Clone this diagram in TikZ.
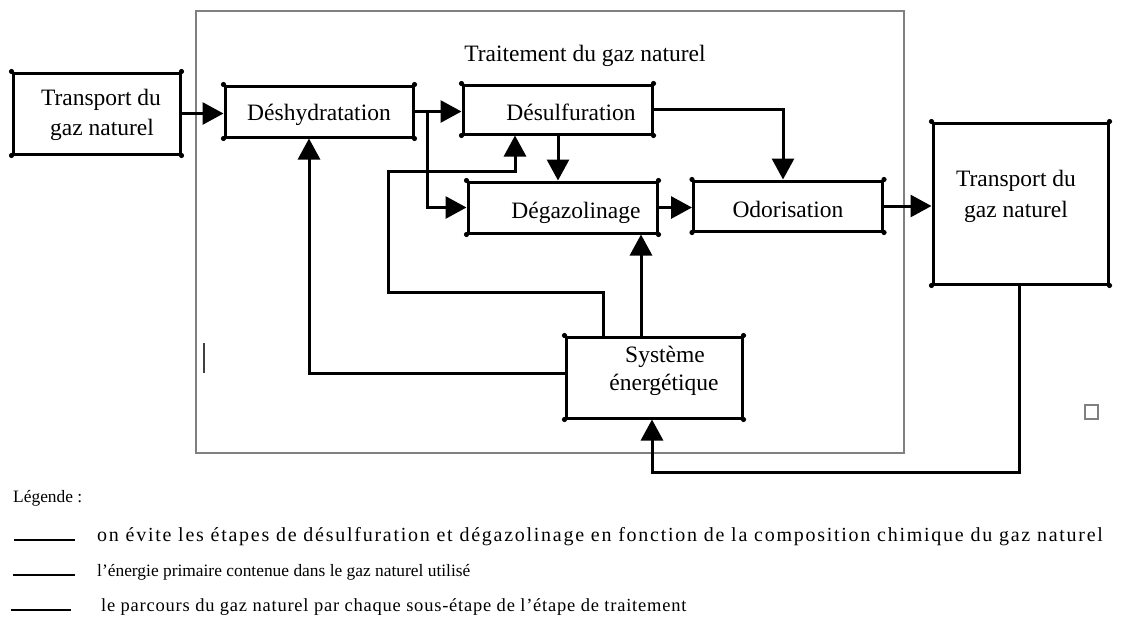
\documentclass[tikz,border=0pt]{standalone}
\usepackage{fontspec}
\setmainfont{Liberation Serif}
\usetikzlibrary{arrows.meta}
\begin{document}
\begin{tikzpicture}[x=1pt,y=-1pt,
  box/.style={draw, line width=3pt, inner sep=0pt},
  lab/.style={inner sep=0pt, anchor=base, font=\fontsize{23.5}{29}\selectfont},
  leg/.style={inner sep=0pt, anchor=base west, font=\fontsize{17.4}{21}\selectfont},
  flow/.style={line width=3pt, -{Triangle[length=21pt,width=22pt]}},
  legline/.style={line width=2.6pt},
  frame/.style={draw=gray, line width=2pt},
]
\useasboundingbox (0,0) rectangle (1125,632);

% treatment frame and its title
\draw[frame] (196,11) rectangle (904,453);
\node[lab] (title) at (585,61) {Traitement du gaz naturel};

% process boxes
\node[box, minimum width=167pt, minimum height=81pt]  (t1) at (96.5,113.5) {};
\node[box, minimum width=188pt, minimum height=51pt]  (dh) at (319,111.5) {};
\node[box, minimum width=189pt, minimum height=49pt]  (ds) at (557.5,109.5) {};
\node[box, minimum width=189pt, minimum height=51pt]  (dg) at (562.5,207.5) {};
\node[box, minimum width=189pt, minimum height=50pt]  (od) at (788,206) {};
\node[box, minimum width=175pt, minimum height=161pt] (t2) at (1020.5,203.5) {};
\node[box, minimum width=176pt, minimum height=81pt]  (se) at (654,377.5) {};

% round dots at the box corners
\foreach \b in {t1,dh,ds,dg,od,t2,se}
  \foreach \a in {north west,north east,south west,south east}
    \fill (\b.\a) circle (2.6pt);

% box texts
\node[lab] (t1a) at (101,105) {Transport du};
\node[lab] (t1b) at (102,135) {gaz naturel};
\node[lab] (dht) at (319,120) {Déshydratation};
\node[lab] (dst) at (571,120) {Désulfuration};
\node[lab] (dgt) at (576,218) {Dégazolinage};
\node[lab] (odt) at (788,217) {Odorisation};
\node[lab] (t2a) at (1016,186) {Transport du};
\node[lab] (t2b) at (1016,217) {gaz naturel};
\node[lab] (sea) at (665,362) {Système};
\node[lab] (seb) at (664,390) {énergétique};

% routing points
\coordinate (br) at (427,0);
\coordinate (xd) at (558,0);
\coordinate (xo) at (783,0);
\coordinate (xt) at (1019,0);
\coordinate (xs) at (652,0);
\coordinate (yb) at (0,472);
\coordinate (xh) at (309,0);
\coordinate (yl) at (0,373);
\coordinate (k1) at (603,292);
\coordinate (k2) at (388,292);
\coordinate (k3) at (388,171);
\coordinate (k4) at (515,171);
\coordinate (xg) at (641,0);

% gas path
\draw[flow] (t1.east) -- (t1.east -| dh.west);
\draw[flow] (dh.east) -- (dh.east -| ds.west);
\draw[flow] (dh.east -| br) -- (dg.west -| br) -- (dg.west);
\draw[flow] (ds.south -| xd) -- (dg.north -| xd);
\draw[flow] (ds.east) -- (ds.east -| xo) -- (od.north -| xo);
\draw[flow] (dg.east) -- (dg.east -| od.west);
\draw[flow] (od.east) -- (od.east -| t2.west);

% energy supply
\draw[flow] (t2.south -| xt) -- (yb -| xt) -- (yb -| xs) -- (se.south -| xs);
\draw[flow] (se.west |- yl) -- (xh |- yl) -- (dh.south -| xh);
\draw[flow] (se.north -| k1) -- (k1) -- (k2) -- (k3) -- (k4) -- (ds.south -| k4);
\draw[flow] (se.north -| xg) -- (dg.south -| xg);

% small marks
\draw[darkgray, line width=1.5pt] (204,343) -- (204,373);
\draw[gray, line width=1.2pt] (1085,405) rectangle (1098,419);

% legend
\node[leg] (lg) at (13,502) {Légende :};
\coordinate (l1a) at (14,540);  \coordinate (l1b) at (75,540);
\coordinate (l2a) at (13,575);  \coordinate (l2b) at (75,575);
\coordinate (l3a) at (11,610);  \coordinate (l3b) at (71,610);
\draw[legline] (l1a) -- (l1b);
\draw[legline] (l2a) -- (l2b);
\draw[legline] (l3a) -- (l3b);
\node[leg, font=\fontsize{20}{24}\selectfont] (lt1) at (97,541) {\addfontfeature{LetterSpace=8.7}on évite les étapes de désulfuration et dégazolinage en fonction de la composition chimique du gaz naturel};
\node[leg] (lt2) at (97,576) {l’énergie primaire contenue dans le gaz naturel utilisé};
\node[leg, font=\fontsize{18.5}{22}\selectfont] (lt3) at (101,611) {\addfontfeature{LetterSpace=4.2}le parcours du gaz naturel par chaque sous-étape de l’étape de traitement};
\end{tikzpicture}
\end{document}
